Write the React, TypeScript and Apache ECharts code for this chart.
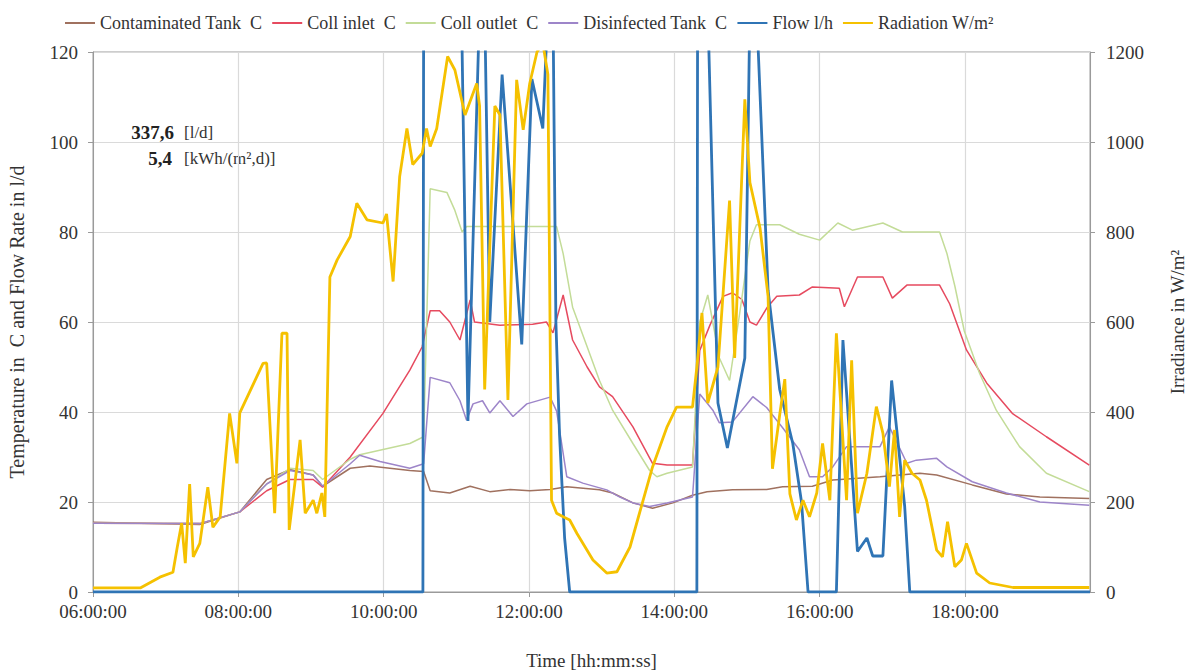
import React, { useEffect, useRef } from 'react';
import * as echarts from 'echarts';

// ---- Data (time in decimal hours, value) ----
const seriesNames = [
  'Contaminated Tank  C',
  'Coll inlet  C',
  'Coll outlet  C',
  'Disinfected Tank  C',
  'Flow l/h',
  'Radiation W/m²',
];

const leftTicks = [0, 20, 40, 60, 80, 100, 120];
const rightTicks = [0, 200, 400, 600, 800, 1000, 1200];
const timeTicks = [6, 8, 10, 12, 14, 16, 18];

const contaminatedTank: [number, number][] = [
  [6.0, 15.5], [7.47, 15.0], [8.02, 17.8], [8.39, 25.0], [8.71, 27.2], [9.03, 26.0],
  [9.16, 23.5], [9.54, 27.5], [9.81, 28.0], [10.36, 27.0], [10.55, 26.8], [10.64, 22.5],
  [10.91, 22.0], [11.19, 23.5], [11.46, 22.3], [11.74, 22.8], [12.01, 22.5], [12.29, 22.8],
  [12.52, 23.4], [12.97, 22.7], [13.15, 22.0], [13.43, 19.8], [13.70, 18.6], [13.98, 19.8],
  [14.25, 21.5], [14.45, 22.3], [14.80, 22.7], [15.27, 22.8], [15.49, 23.4], [15.90, 23.5],
  [16.18, 24.9], [16.83, 25.6], [17.38, 26.4], [17.61, 26.0], [18.10, 23.8], [18.57, 21.8],
  [19.03, 21.1], [19.71, 20.8],
];

const collInlet: [number, number][] = [
  [6.0, 15.3], [7.47, 15.2], [8.02, 17.8], [8.39, 22.5], [8.71, 25.0], [9.03, 25.0],
  [9.16, 23.3], [9.54, 30.0], [9.99, 39.7], [10.36, 49.3], [10.53, 54.5], [10.64, 62.5],
  [10.77, 62.5], [10.91, 60.0], [11.05, 56.0], [11.19, 64.9], [11.25, 60.0], [11.60, 59.3],
  [12.05, 59.5], [12.24, 60.0], [12.33, 57.6], [12.47, 66.0], [12.60, 56.0], [12.80, 50.0],
  [12.97, 45.6], [13.15, 43.4], [13.43, 36.7], [13.70, 28.6], [13.90, 28.2], [14.25, 28.2],
  [14.35, 53.7], [14.49, 59.3], [14.67, 65.7], [14.80, 66.5], [14.93, 65.0], [15.04, 60.0],
  [15.13, 59.3], [15.28, 63.3], [15.41, 65.7], [15.72, 66.0], [15.90, 67.8], [16.27, 67.5],
  [16.34, 63.4], [16.52, 70.0], [16.87, 70.0], [17.00, 65.3], [17.20, 68.2], [17.65, 68.2],
  [17.79, 64.0], [18.02, 53.8], [18.30, 46.4], [18.65, 39.7], [19.12, 34.5], [19.71, 28.2],
];

const collOutlet: [number, number][] = [
  [6.0, 15.3], [7.47, 15.2], [8.02, 17.8], [8.39, 24.0], [8.71, 27.5], [9.03, 27.0],
  [9.16, 25.0], [9.54, 29.5], [9.67, 30.5], [10.36, 33.0], [10.55, 34.5], [10.64, 89.6],
  [10.87, 88.8], [10.98, 84.8], [11.08, 80.0], [11.14, 81.2], [12.38, 81.2], [12.47, 75.2],
  [12.60, 63.3], [12.80, 54.5], [12.97, 47.0], [13.15, 40.4], [13.43, 33.0], [13.66, 27.0],
  [13.76, 25.6], [13.90, 26.4], [14.25, 27.8], [14.35, 60.0], [14.46, 66.0], [14.62, 52.0],
  [14.76, 47.0], [14.90, 62.0], [15.04, 78.0], [15.13, 81.6], [15.45, 81.6], [15.72, 79.5],
  [16.00, 78.2], [16.25, 82.0], [16.45, 80.4], [16.87, 82.0], [17.14, 80.0], [17.65, 80.0],
  [17.75, 75.3], [17.86, 68.0], [17.99, 58.0], [18.20, 48.6], [18.43, 40.4], [18.75, 32.3],
  [19.12, 26.4], [19.71, 22.3],
];

const disinfectedTank: [number, number][] = [
  [6.0, 15.3], [7.47, 15.2], [8.02, 17.8], [8.39, 24.0], [8.71, 27.0], [9.03, 26.0],
  [9.16, 23.5], [9.54, 28.5], [9.67, 30.4], [9.95, 29.0], [10.36, 27.5], [10.55, 28.5],
  [10.64, 47.7], [10.91, 46.5], [11.05, 42.5], [11.14, 38.2], [11.23, 41.8], [11.36, 42.5],
  [11.46, 39.8], [11.60, 42.5], [11.78, 39.0], [11.97, 41.8], [12.29, 43.3], [12.38, 40.2],
  [12.52, 25.6], [12.74, 24.2], [13.07, 22.7], [13.25, 21.1], [13.43, 19.8], [13.66, 19.0],
  [13.90, 19.8], [14.25, 21.1], [14.35, 44.0], [14.53, 40.4], [14.62, 37.6], [14.80, 37.8],
  [15.08, 43.4], [15.27, 41.0], [15.49, 36.5], [15.72, 31.6], [15.86, 25.6], [16.04, 25.6],
  [16.18, 27.8], [16.37, 32.3], [16.83, 32.3], [16.96, 36.7], [17.20, 28.6], [17.33, 29.3],
  [17.61, 29.7], [17.75, 27.8], [18.10, 24.5], [18.57, 22.0], [19.03, 20.0], [19.71, 19.3],
];

const flow: [number, number][] = [
  [6.0, 0], [10.54, 0], [10.55, 130], [11.07, 130], [11.16, 38], [11.32, 130], [11.39, 130],
  [11.46, 60], [11.63, 115], [11.90, 55], [12.04, 114], [12.19, 103], [12.26, 130],
  [12.33, 130], [12.37, 60], [12.42, 35], [12.49, 12], [12.56, 0], [14.31, 0], [14.32, 130],
  [14.46, 130], [14.60, 42], [14.73, 32], [14.97, 52], [15.04, 130], [15.13, 130],
  [15.29, 67], [15.45, 45], [15.63, 33], [15.75, 20], [15.84, 0], [16.23, 0], [16.32, 56],
  [16.52, 9], [16.65, 12], [16.73, 8], [16.87, 8], [16.99, 47], [17.17, 19], [17.24, 0],
  [19.72, 0],
];

const radiation: [number, number][] = [
  [6.0, 9], [6.65, 9], [6.92, 33], [7.10, 44], [7.16, 100], [7.22, 153], [7.27, 64],
  [7.33, 240], [7.38, 78], [7.47, 108], [7.58, 233], [7.65, 144], [7.75, 167], [7.88, 397],
  [7.98, 286], [8.02, 398], [8.34, 508], [8.39, 509], [8.50, 175], [8.60, 575], [8.67, 575],
  [8.70, 138], [8.85, 338], [8.92, 175], [9.03, 204], [9.08, 175], [9.15, 220], [9.19, 167],
  [9.26, 700], [9.36, 738], [9.54, 790], [9.63, 864], [9.77, 827], [9.99, 820], [10.04, 840],
  [10.13, 690], [10.22, 923], [10.32, 1030], [10.40, 950], [10.53, 975], [10.59, 1030],
  [10.64, 990], [10.73, 1030], [10.88, 1190], [10.98, 1160], [11.12, 1060], [11.28, 1130],
  [11.32, 1080], [11.39, 450], [11.53, 1080], [11.60, 1060], [11.71, 427], [11.83, 1138],
  [11.92, 1027], [12.01, 1130], [12.11, 1200], [12.19, 1220], [12.26, 1150], [12.31, 204],
  [12.38, 175], [12.47, 167], [12.56, 160], [12.66, 130], [12.88, 71], [13.07, 42],
  [13.21, 45], [13.39, 100], [13.52, 175], [13.70, 278], [13.90, 367], [14.03, 411],
  [14.25, 411], [14.31, 500], [14.38, 620], [14.46, 420], [14.60, 500], [14.76, 870],
  [14.83, 520], [14.97, 1095], [15.04, 910], [15.18, 808], [15.29, 657], [15.35, 274],
  [15.45, 394], [15.52, 473], [15.59, 218], [15.68, 160], [15.77, 204], [15.86, 167],
  [15.96, 220], [16.04, 330], [16.14, 204], [16.23, 575], [16.30, 390], [16.37, 204],
  [16.44, 515], [16.52, 175], [16.65, 264], [16.78, 412], [16.87, 353], [16.96, 234],
  [17.03, 360], [17.10, 167], [17.17, 293], [17.27, 264], [17.38, 249], [17.47, 204],
  [17.61, 93], [17.69, 78], [17.76, 156], [17.86, 56], [17.95, 71], [18.02, 108],
  [18.16, 42], [18.34, 20], [18.66, 10], [19.71, 10],
];

const colors = ['#a0715f', '#e64a5f', '#c3dc98', '#9d85c9', '#2f74b5', '#f5c100'];
const FONT = "'Liberation Serif', 'Times New Roman', serif";

function pad(h: number) {
  return (h < 10 ? '0' : '') + h;
}

export default function App() {
  const ref = useRef<HTMLDivElement>(null);

  useEffect(() => {
    document.body.style.margin = '0';
    if (!ref.current) return;
    const chart = echarts.init(ref.current, undefined, { renderer: 'svg' });

    const datasets = [contaminatedTank, collInlet, collOutlet, disinfectedTank, flow, radiation];
    const widths = [1.5, 1.5, 1.5, 1.5, 2.8, 2.8];

    const option: any = {
      animation: false,
      backgroundColor: '#ffffff',
      textStyle: { fontFamily: FONT },
      legend: {
        left: 60,
        top: 9,
        icon: 'rect',
        itemWidth: 30,
        itemHeight: 2,
        itemGap: 10,
        data: seriesNames,
        textStyle: { fontFamily: FONT, fontSize: 18, color: '#333' },
      },
      grid: {
        left: 93,
        right: 99,
        top: 52,
        bottom: 79,
        containLabel: false,
        outerBoundsMode: 'none',
        show: true,
        borderColor: '#9a9a9a',
        borderWidth: 1,
      },
      xAxis: {
        type: 'value',
        min: 6,
        max: 19.72,
        interval: 2,
        name: 'Time [hh:mm:ss]',
        nameLocation: 'middle',
        nameGap: 59,
        nameTextStyle: { fontFamily: FONT, fontSize: 19, color: '#333' },
        axisLine: { show: true, lineStyle: { color: '#9a9a9a' } },
        axisTick: { show: true, length: 5, lineStyle: { color: '#9a9a9a' } },
        axisLabel: {
          fontFamily: FONT,
          fontSize: 19,
          color: '#333',
          margin: 10,
          showMaxLabel: false,
          formatter: (v: number) => {
            const h = Math.round(v);
            if (Math.abs(v - h) > 1e-6 || timeTicks.indexOf(h) < 0) return '';
            return pad(h) + ':00:00';
          },
        },
        splitLine: { show: true, lineStyle: { color: '#dadada', width: 1.2 } },
      },
      yAxis: [
        {
          type: 'value',
          min: leftTicks[0],
          max: leftTicks[leftTicks.length - 1],
          interval: 20,
          name: 'Temperature in  C and Flow Rate in l/d',
          nameLocation: 'middle',
          nameRotate: 90,
          nameGap: 66,
          nameTextStyle: { fontFamily: FONT, fontSize: 20, color: '#333' },
          axisLine: { show: true, lineStyle: { color: '#9a9a9a' } },
          axisTick: { show: true, length: 5, lineStyle: { color: '#9a9a9a' } },
          axisLabel: { fontFamily: FONT, fontSize: 19, color: '#333', margin: 15 },
          splitLine: { show: true, lineStyle: { color: '#dadada', width: 1.2 } },
        },
        {
          type: 'value',
          min: rightTicks[0],
          max: rightTicks[rightTicks.length - 1],
          interval: 200,
          position: 'right',
          name: 'Irradiance in W/m²',
          nameLocation: 'middle',
          nameRotate: 90,
          nameGap: 78,
          nameTextStyle: { fontFamily: FONT, fontSize: 19, color: '#333' },
          axisLine: { show: true, lineStyle: { color: '#9a9a9a' } },
          axisTick: { show: true, length: 5, lineStyle: { color: '#9a9a9a' } },
          axisLabel: {
            fontFamily: FONT,
            fontSize: 19,
            color: '#333',
            margin: 16,
            formatter: (v: number) => String(v),
          },
          splitLine: { show: false },
        },
      ],
      series: seriesNames.map((name, i) => ({
        name,
        type: 'line',
        yAxisIndex: i === 5 ? 1 : 0,
        data: datasets[i],
        symbol: 'none',
        showSymbol: false,
        clip: true,
        color: colors[i],
        itemStyle: { color: colors[i] },
        lineStyle: { color: colors[i], width: widths[i] },
        z: 2 + i,
      })),
      graphic: [
        {
          type: 'text',
          x: 174,
          y: 132,
          style: {
            text: '337,6',
            font: `bold 19px ${FONT}`,
            fill: '#222',
            textAlign: 'right',
            textVerticalAlign: 'middle',
          },
        },
        {
          type: 'text',
          x: 184,
          y: 132,
          style: {
            text: '[l/d]',
            font: `17px ${FONT}`,
            fill: '#333',
            textAlign: 'left',
            textVerticalAlign: 'middle',
          },
        },
        {
          type: 'text',
          x: 172,
          y: 158,
          style: {
            text: '5,4',
            font: `bold 19px ${FONT}`,
            fill: '#222',
            textAlign: 'right',
            textVerticalAlign: 'middle',
          },
        },
        {
          type: 'text',
          x: 184,
          y: 158,
          style: {
            text: '[kWh/(m²,d)]',
            font: `17px ${FONT}`,
            fill: '#333',
            textAlign: 'left',
            textVerticalAlign: 'middle',
          },
        },
      ],
    };

    chart.setOption(option);
    return () => {
      chart.dispose();
    };
  }, []);

  return <div ref={ref} style={{ width: 1189, height: 671 }} />;
}
